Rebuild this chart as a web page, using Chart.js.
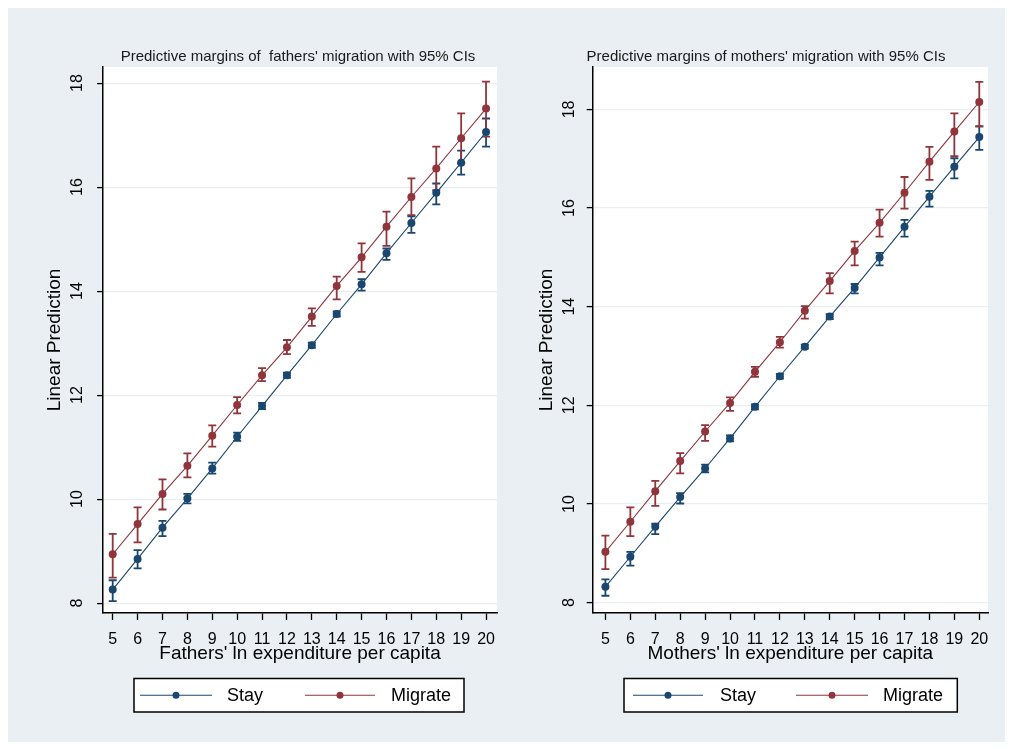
<!DOCTYPE html>
<html><head><meta charset="utf-8">
<script src="https://cdn.jsdelivr.net/npm/chart.js@4"></script>
<style>
html,body{margin:0;padding:0;background:#ffffff;width:1015px;height:749px;overflow:hidden;}
#fig{position:absolute;left:8px;top:8px;width:997px;height:734px;background:#E9EFF2;}
canvas{position:absolute;top:0;}
#c1{left:0;}
#c2{left:507px;}
</style></head><body>
<div id="fig"></div>
<canvas id="c1" width="507" height="749"></canvas>
<canvas id="c2" width="508" height="749"></canvas>
<script>
// ---- data ----
const xValues = [5,6,7,8,9,10,11,12,13,14,15,16,17,18,19,20];
const xTicks = [5,6,7,8,9,10,11,12,13,14,15,16,17,18,19,20];
const yTicks = [8,10,12,14,16,18];
const seriesNames = ['Stay','Migrate'];

const fathersStay   = [8.26,8.85,9.45,10.01,10.59,11.20,11.79,12.38,12.96,13.56,14.13,14.73,15.31,15.89,16.47,17.06];
const fathersStayLo = [8.04,8.67,9.29,9.92,10.49,11.12,11.73,12.33,12.91,13.51,14.01,14.60,15.12,15.67,16.24,16.78];
const fathersStayHi = [8.44,9.02,9.58,10.10,10.70,11.28,11.85,12.43,13.01,13.61,14.23,14.82,15.44,16.07,16.70,17.32];
const fathersMig    = [8.94,9.52,10.10,10.64,11.22,11.81,12.38,12.92,13.51,14.10,14.65,15.24,15.81,16.36,16.94,17.51];
const fathersMigLo  = [8.49,9.17,9.80,10.42,11.01,11.65,12.27,12.79,13.33,13.84,14.37,14.87,15.46,15.94,16.46,16.97];
const fathersMigHi  = [9.33,9.84,10.38,10.88,11.42,11.96,12.52,13.06,13.67,14.28,14.92,15.53,16.17,16.78,17.42,18.03];

const mothersStay   = [8.32,8.93,9.54,10.14,10.72,11.33,11.97,12.59,13.19,13.80,14.38,15.00,15.62,16.23,16.84,17.44];
const mothersStayLo = [8.14,8.75,9.39,10.01,10.64,11.27,11.92,12.54,13.15,13.75,14.27,14.84,15.42,16.03,16.60,17.18];
const mothersStayHi = [8.47,9.03,9.60,10.22,10.80,11.39,12.02,12.64,13.23,13.85,14.46,15.09,15.76,16.35,17.01,17.66];
const mothersMig    = [9.03,9.64,10.26,10.87,11.47,12.05,12.68,13.28,13.92,14.52,15.13,15.70,16.31,16.94,17.55,18.15];
const mothersMigLo  = [8.68,9.35,9.96,10.62,11.28,11.89,12.58,13.17,13.76,14.27,14.84,15.42,15.99,16.57,17.05,17.65];
const mothersMigHi  = [9.36,9.93,10.47,11.03,11.60,12.16,12.78,13.39,14.01,14.68,15.32,15.97,16.63,17.24,17.92,18.56];

// ---- styles ----
const FONT = "'Liberation Sans', Arial, sans-serif";
const BLUE = '#1A476F';
const RED = '#90353B';
const GRID = '#E9EFF2';

const plotBg = {
  id:'plotBg',
  beforeDraw(chart){
    const {ctx, chartArea:a} = chart;
    ctx.save(); ctx.fillStyle='#ffffff';
    ctx.fillRect(a.left, a.top, a.right-a.left, a.bottom-a.top);
    ctx.restore();
  }
};

const errorBars = {
  id:'errorBars',
  beforeDatasetsDraw(chart){
    const {ctx} = chart;
    const xs = chart.scales.x, ys = chart.scales.y;
    chart.data.datasets.forEach(ds=>{
      ctx.save();
      ctx.strokeStyle = ds.borderColor; ctx.lineWidth = 1.8;
      ds.data.forEach((p,i)=>{
        const px = xs.getPixelForValue(p.x);
        const y1 = ys.getPixelForValue(ds.lo[i]);
        const y2 = ys.getPixelForValue(ds.hi[i]);
        ctx.beginPath();
        ctx.moveTo(px,y1); ctx.lineTo(px,y2);
        ctx.moveTo(px-4,y1); ctx.lineTo(px+4,y1);
        ctx.moveTo(px-4,y2); ctx.lineTo(px+4,y2);
        ctx.stroke();
      });
      ctx.restore();
    });
  }
};

const texts = {
  id:'texts',
  afterDraw(chart, args, o){
    const {ctx} = chart;
    const ys = chart.scales.y;
    ctx.save();
    // title
    ctx.fillStyle = '#1a1a1a';
    ctx.font = `15px ${FONT}`;
    ctx.textAlign='center'; ctx.textBaseline='alphabetic';
    ctx.fillText(o.title, o.titleX, 61);
    // y tick labels (rotated)
    ctx.fillStyle='#000';
    ctx.font = `16px ${FONT}`;
    ys.ticks.forEach(t=>{
      const py = ys.getPixelForValue(t.value);
      ctx.save();
      ctx.translate(o.yLabelX, py);
      ctx.rotate(-Math.PI/2);
      ctx.textAlign='center'; ctx.textBaseline='middle';
      ctx.fillText(String(t.value), 0, 0);
      ctx.restore();
    });
    // legend
    const L = o.legend;
    ctx.fillStyle='#ffffff';
    ctx.fillRect(L.x, L.y, L.w, L.h);
    ctx.strokeStyle='#000'; ctx.lineWidth=1.5;
    ctx.strokeRect(L.x, L.y, L.w, L.h);
    const cy = L.y + L.h/2;
    chart.data.datasets.forEach((ds,k)=>{
      const e = L.items[k];
      ctx.strokeStyle = ds.borderColor; ctx.lineWidth=1.2;
      ctx.beginPath(); ctx.moveTo(e.x1, cy); ctx.lineTo(e.x2, cy); ctx.stroke();
      ctx.fillStyle = ds.borderColor;
      ctx.beginPath(); ctx.arc((e.x1+e.x2)/2, cy, 3.5, 0, Math.PI*2); ctx.fill();
      ctx.fillStyle='#000';
      ctx.font = `18px ${FONT}`;
      ctx.textAlign='left'; ctx.textBaseline='middle';
      ctx.fillText(ds.label, e.tx, cy+1);
    });
    ctx.restore();
  }
};

function makePanel(id, p){
  const mk = (name, vals, lo, hi, color) => ({
    label:name,
    data: xValues.map((x,i)=>({x, y:vals[i]})),
    lo, hi,
    borderColor:color, backgroundColor:color,
    borderWidth:1.1, pointRadius:4, pointBorderWidth:0,
    pointBackgroundColor:color, tension:0
  });
  return new Chart(document.getElementById(id), {
    type:'line',
    data:{datasets:[
      mk(seriesNames[0], p.stay, p.stayLo, p.stayHi, BLUE),
      mk(seriesNames[1], p.mig, p.migLo, p.migHi, RED)
    ]},
    options:{
      responsive:false, animation:false, devicePixelRatio:1,
      layout:{padding:{left:0, top:67, right:p.padRight, bottom:0}},
      plugins:{
        legend:{display:false}, tooltip:{enabled:false},
        texts:{title:p.title, titleX:p.titleX, yLabelX:p.yLabelX, legend:p.legend}
      },
      scales:{
        x:{
          type:'linear', min:p.xMin, max:p.xMax,
          afterBuildTicks:s=>{ s.ticks = xTicks.map(v=>({value:v})); },
          afterFit:s=>{ s.height = 136; },
          ticks:{autoSkip:false, maxRotation:0, minRotation:0, padding:10,
                 color:'#000', font:{family:FONT, size:16},
                 callback:v=>String(v)},
          grid:{drawOnChartArea:false, drawTicks:true, tickLength:7, tickColor:'#000', tickWidth:1.3},
          border:{display:true, color:'#000', width:1.5},
          title:{display:true, text:p.xTitle, color:'#000',
                 font:{family:FONT, size:19, lineHeight:1.2}, padding:{top:0, bottom:84}}
        },
        y:{
          type:'linear', min:p.yMin, max:p.yMax,
          afterBuildTicks:s=>{ s.ticks = yTicks.map(v=>({value:v})); },
          afterFit:s=>{ s.width = p.yWidth; },
          ticks:{color:'rgba(0,0,0,0)', font:{family:FONT, size:16}},
          grid:{color:GRID, lineWidth:1.2, drawTicks:true, tickLength:6, tickColor:'#000', tickWidth:1.3},
          border:{display:true, color:'#000', width:1.5},
          title:{display:true, text:'Linear Prediction', color:'#000',
                 font:{family:FONT, size:19, lineHeight:1.2}, padding:{top:p.yTitlePad, bottom:0}}
        }
      }
    },
    plugins:[plotBg, errorBars, texts]
  });
}

makePanel('c1', {
  stay:fathersStay, stayLo:fathersStayLo, stayHi:fathersStayHi,
  mig:fathersMig, migLo:fathersMigLo, migHi:fathersMigHi,
  title:"Predictive margins of  fathers' migration with 95% CIs", titleX:298,
  xTitle:"Fathers' ln expenditure per capita",
  xMin:4.61, xMax:20.44, yMin:7.81, yMax:18.31,
  padRight:10, yWidth:103, yLabelX:78, yTitlePad:43.6,
  legend:{x:134, y:678.5, w:330, h:33.5, items:[{x1:140,x2:212,tx:227},{x1:305,x2:375,tx:391}]}
});
makePanel('c2', {
  stay:mothersStay, stayLo:mothersStayLo, stayHi:mothersStayHi,
  mig:mothersMig, migLo:mothersMigLo, migHi:mothersMigHi,
  title:"Predictive margins of mothers' migration with 95% CIs", titleX:259,
  xTitle:"Mothers' ln expenditure per capita",
  xMin:4.49, xMax:20.35, yMin:7.79, yMax:18.86,
  padRight:27, yWidth:85.7, yLabelX:63, yTitlePad:28.6,
  legend:{x:117, y:678.5, w:333.3, h:33.5, items:[{x1:126,x2:196,tx:213},{x1:289,x2:361,tx:376}]}
});
</script>
</body></html>
